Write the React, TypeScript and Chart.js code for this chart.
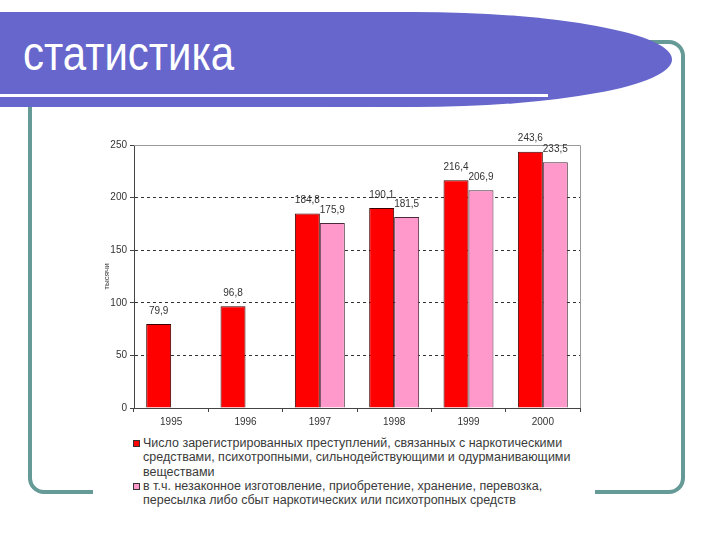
import React, { useEffect, useRef } from 'react';
import { Chart, registerables } from 'chart.js';

Chart.register(...registerables);

const categories = ['1995', '1996', '1997', '1998', '1999', '2000'];
const registeredCrimes = [79.9, 96.8, 184.8, 190.1, 216.4, 243.6];
const illegalTrafficking = [null, null, 175.9, 181.5, 206.9, 233.5];
const yMin = 0;
const yMax = 250;
const yStep = 50;
const yTitle = 'тысячи';
const titleText = 'статистика';
const legendLines1 = [
  'Число зарегистрированных преступлений, связанных с наркотическими',
  'средствами, психотропными, сильнодействующими и одурманивающими',
  'веществами',
];
const legendLines2 = [
  'в т.ч. незаконное изготовление, приобретение, хранение, перевозка,',
  'пересылка либо сбыт наркотических или психотропных средств',
];

const FONT = '"Liberation Sans", Arial, sans-serif';
const RED = '#ff0000';
const PINK = '#ff99cc';

const fmt = (v: number) => v.toFixed(1).replace('.', ',');

const valueLabels = {
  id: 'valueLabels',
  afterDatasetsDraw(chart: any) {
    const ctx = chart.ctx;
    ctx.save();
    ctx.font = `10px ${FONT}`;
    ctx.fillStyle = '#333';
    ctx.textAlign = 'center';
    ctx.textBaseline = 'middle';
    chart.data.datasets.forEach((ds: any, i: number) => {
      const meta = chart.getDatasetMeta(i);
      meta.data.forEach((el: any, j: number) => {
        const v = ds.data[j];
        if (v === null || v === undefined) return;
        ctx.fillText(fmt(v), el.x, el.y - 13);
      });
    });
    ctx.restore();
  },
};

const frameLines = {
  id: 'frameLines',
  afterDatasetsDraw(chart: any) {
    const { ctx, chartArea } = chart;
    const { left, right, top, bottom } = chartArea;
    ctx.save();
    ctx.strokeStyle = '#9a9a9a';
    ctx.lineWidth = 1;
    ctx.beginPath();
    ctx.moveTo(left, Math.round(top) + 0.5);
    ctx.lineTo(Math.round(right) + 0.5, Math.round(top) + 0.5);
    ctx.lineTo(Math.round(right) + 0.5, bottom);
    ctx.stroke();
    ctx.restore();
  },
};

function BarChart() {
  const ref = useRef<HTMLCanvasElement | null>(null);
  useEffect(() => {
    if (!ref.current) return;
    const chart = new Chart(ref.current, {
      type: 'bar',
      data: {
        labels: categories,
        datasets: [
          {
            label: legendLines1.join(' '),
            data: registeredCrimes,
            backgroundColor: RED,
            borderColor: '#3a0000',
            borderWidth: 1,
            borderSkipped: 'bottom',
          },
          {
            label: legendLines2.join(' '),
            data: illegalTrafficking as any,
            backgroundColor: PINK,
            borderColor: '#4a2a3a',
            borderWidth: 1,
            borderSkipped: 'bottom',
          },
        ],
      },
      options: {
        responsive: false,
        animation: false,
        devicePixelRatio: 1,
        categoryPercentage: 0.672,
        barPercentage: 1,
        layout: { padding: { top: 20, right: 15, left: 0, bottom: 0 } },
        plugins: {
          legend: { display: false },
          tooltip: { enabled: false },
        },
        scales: {
          x: {
            offset: true,
            grid: {
              offset: true,
              drawOnChartArea: false,
              drawTicks: true,
              tickLength: 4,
              color: '#444',
            },
            border: { color: '#444', width: 1 },
            ticks: {
              font: { family: FONT, size: 10 },
              color: '#333',
              padding: 4,
              maxRotation: 0,
            },
            afterFit: (s: any) => {
              s.height = 22;
            },
          },
          y: {
            min: yMin,
            max: yMax,
            ticks: {
              stepSize: yStep,
              font: { family: FONT, size: 10 },
              color: '#333',
              padding: 3,
            },
            grid: {
              color: (c: any) =>
                c.tick && (c.tick.value === yMin || c.tick.value === yMax) ? 'rgba(0,0,0,0)' : '#333',
              tickColor: '#444',
              tickLength: 4,
              drawTicks: true,
            },
            border: { color: '#444', width: 1, dash: [3, 3] },
            title: {
              display: true,
              text: yTitle,
              font: { family: FONT, size: 8 },
              color: '#333',
              padding: { top: 9, bottom: 0 },
            },
            afterFit: (s: any) => {
              s.width = 41;
            },
          },
        },
      },
      plugins: [frameLines, valueLabels],
    });
    return () => chart.destroy();
  }, []);
  return <canvas ref={ref} width={502} height={305} style={{ position: 'absolute', left: 0, top: 5 }} />;
}

function LegendItem({ lines, color, top, markTop }: { lines: string[]; color: string; top: number; markTop: number }) {
  return (
    <>
      <div
        style={{
          position: 'absolute',
          left: 40,
          top: markTop,
          width: 7,
          height: 7,
          boxSizing: 'border-box',
          border: '1px solid #333',
          background: color,
        }}
      />
      <div
        style={{
          position: 'absolute',
          left: 50,
          top,
          fontFamily: FONT,
          fontSize: 12.5,
          lineHeight: '14.5px',
          color: '#3a3a3a',
          whiteSpace: 'nowrap',
        }}
      >
        {lines.map((l, i) => (
          <div key={i}>{l}</div>
        ))}
      </div>
    </>
  );
}

export default function App() {
  return (
    <div
      style={{
        position: 'fixed',
        left: 0,
        top: 0,
        width: 720,
        height: 540,
        background: '#fff',
        overflow: 'hidden',
      }}
    >
      <svg width={720} height={540} style={{ position: 'absolute', left: 0, top: 0 }}>
        <rect x={30} y={42} width={653} height={450} rx={14} ry={14} fill="none" stroke="#659a96" strokeWidth={4} />
        <rect x={0} y={12} width={414} height={95} fill="#6666cc" />
        <ellipse cx={414} cy={59.5} rx={258} ry={47.5} fill="#6666cc" />
        <rect x={0} y={94} width={548} height={3} fill="#fff" />
        <text
          x={23}
          y={70}
          fill="#fff"
          fontFamily={FONT}
          fontSize={42}
          transform="translate(0 70) scale(1 1.15) translate(0 -70)"
        >
          {titleText}
        </text>
      </svg>
      <div
        style={{
          position: 'absolute',
          left: 93,
          top: 120,
          width: 502,
          height: 400,
          background: '#fff',
        }}
      >
        <BarChart />
        <LegendItem lines={legendLines1} color={RED} top={315.75} markTop={320} />
        <LegendItem lines={legendLines2} color={PINK} top={358.75} markTop={363} />
      </div>
    </div>
  );
}
